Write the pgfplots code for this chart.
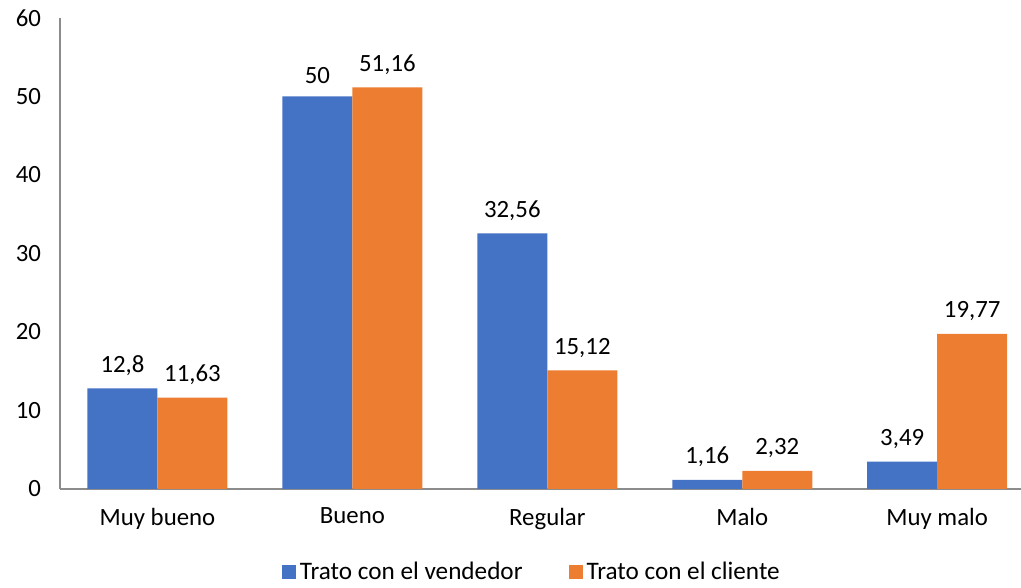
\documentclass[border=0pt]{standalone}
\usepackage{pgfplots}
\pgfplotsset{compat=1.18}
\usepackage{fontspec}
\setmainfont{Carlito}
\definecolor{cblue}{HTML}{4472C4}
\definecolor{corange}{HTML}{ED7D31}
\begin{document}
\begin{tikzpicture}
\begin{axis}[name=ax, scale only axis, width=480.5pt, height=235.5pt,
  ybar=0pt, bar width=35pt,
  xmin=-0.5, xmax=4.43, ymin=0, ymax=60,
  xtick={0,1,2,3,4}, xticklabels={Muy bueno,Bueno,Regular,Malo,Muy malo},
  ytick={0,10,20,30,40,50,60},
  axis x line*=bottom, axis y line*=left,
  major tick length=0pt,
  axis line style={draw=black!45, line width=0.6pt},
  /pgf/number format/assume math mode=true,
  /pgf/number format/use comma,
  tick label style={font=\fontsize{12.4}{14}\selectfont},
  xticklabel style={yshift=-6pt},
  yticklabel style={xshift=-6pt},
  nodes near coords,
  every node near coord/.append style={font=\fontsize{12.4}{14}\selectfont, black, yshift=3pt},
  clip=false,
  legend style={at={(0.492,-0.177)}, anchor=center, legend columns=2, draw=none,
    font=\fontsize{12.6}{14}\selectfont,
    /tikz/every even column/.append style={column sep=21pt}},
  legend image code/.code={\fill[#1] (0pt,-3.5pt) rectangle (7pt,3.5pt);},
]
\addplot[fill=cblue, draw=none] coordinates {(0,12.8) (1,50) (2,32.56) (3,1.16) (4,3.49)};
\addplot[fill=corange, draw=none] coordinates {(0,11.63) (1,51.16) (2,15.12) (3,2.32) (4,19.77)};
\legend{Trato con el vendedor, Trato con el cliente}
\end{axis}
\pgfresetboundingbox
\path[use as bounding box] ([shift={(-30pt,-49.5pt)}]ax.south west) rectangle ([shift={(0pt,9pt)}]ax.north east);
\end{tikzpicture}
\end{document}
